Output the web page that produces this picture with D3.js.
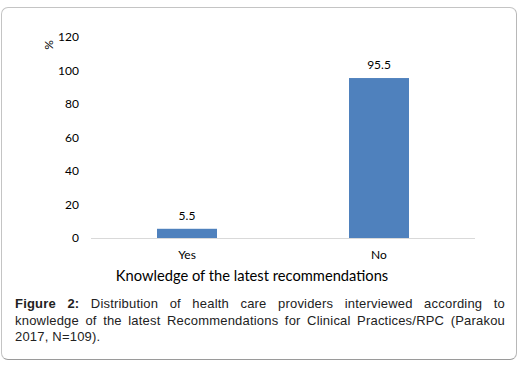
<!DOCTYPE html>
<html><head><meta charset="utf-8">
<script src="https://cdn.jsdelivr.net/npm/d3@7"></script>
<style>
html,body{margin:0;padding:0;background:#fff;}
#wrap{position:relative;width:523px;height:372px;overflow:hidden;}
#frame{position:absolute;left:1px;top:7px;width:514px;height:351px;border:1.5px solid #c4c4c4;border-bottom-color:#9a9a9a;border-right-color:#b8b8b8;border-radius:7px;box-sizing:content-box;}
svg{position:absolute;left:0;top:0;}
#cap{position:absolute;left:15px;top:296px;width:490px;font-family:"Liberation Sans",Arial,sans-serif;font-size:13px;line-height:16.5px;color:#222;letter-spacing:0.2px;}
#cap .ln{display:block;}
#cap .j{text-align:justify;text-align-last:justify;}
</style></head>
<body><div id="wrap"><div id="frame"></div></div>
<script>
const categories = ["Yes", "No"];
const values = [5.5, 95.5];
const yTicks = [0, 20, 40, 60, 80, 100, 120];
const yLabel = "%";
const xTitle = "Knowledge of the latest recommendations";
const captionBold = "Figure 2:";
const captionLines = [
  " Distribution of health care providers interviewed according to",
  "knowledge of the latest Recommendations for Clinical Practices/RPC (Parakou",
  "2017, N=109)."
];

const wrap = d3.select("#wrap");
const svg = wrap.append("svg").attr("width", 523).attr("height", 372);
const font = "Lato, 'Open Sans', sans-serif";

const x = d3.scaleBand().domain(categories).range([91, 475]).paddingInner(0.6875).paddingOuter(0.34375);
const y = d3.scaleLinear().domain([0, 120]).range([238, 37]);

// y tick labels
svg.append("g").selectAll("text").data(yTicks).join("text")
  .attr("x", 79).attr("y", d => y(d)).attr("dy", "0.35em")
  .attr("text-anchor", "end").attr("font-family", font).attr("font-size", 12).attr("fill", "#000")
  .text(d => d);

svg.append("text").attr("transform", `translate(53,45) rotate(-90)`)
  .attr("text-anchor", "middle").attr("font-family", font).attr("font-size", 12).attr("fill", "#000").text(yLabel);

// bars
svg.append("g").selectAll("rect").data(values).join("rect")
  .attr("x", (d, i) => x(categories[i])).attr("width", x.bandwidth())
  .attr("y", d => y(d)).attr("height", d => y(0) - y(d)).attr("fill", "#4f81bd");

// baseline
svg.append("line").attr("x1", 91).attr("x2", 475).attr("y1", y(0) + 0.5).attr("y2", y(0) + 0.5)
  .attr("stroke", "#d9d9d9").attr("stroke-width", 1);

// data labels
svg.append("g").selectAll("text").data(values).join("text")
  .attr("x", (d, i) => x(categories[i]) + x.bandwidth() / 2).attr("y", d => y(d) - 9)
  .attr("text-anchor", "middle").attr("font-family", font).attr("font-size", 12).attr("fill", "#000")
  .text(d => d.toFixed(1));

// category labels
svg.append("g").selectAll("text").data(categories).join("text")
  .attr("x", d => x(d) + x.bandwidth() / 2).attr("y", 259)
  .attr("text-anchor", "middle").attr("font-family", font).attr("font-size", 12).attr("fill", "#000")
  .text(d => d);

svg.append("text").attr("x", 252).attr("y", 280.5).attr("text-anchor", "middle")
  .attr("font-family", font).attr("font-size", 14.7).attr("fill", "#000").text(xTitle);

const cap = wrap.append("div").attr("id", "cap");
const l1 = cap.append("div").attr("class", "ln j");
l1.append("b").text(captionBold);
l1.append("span").text(captionLines[0]);
cap.append("div").attr("class", "ln j").text(captionLines[1]);
cap.append("div").attr("class", "ln").text(captionLines[2]);
</script></body></html>
